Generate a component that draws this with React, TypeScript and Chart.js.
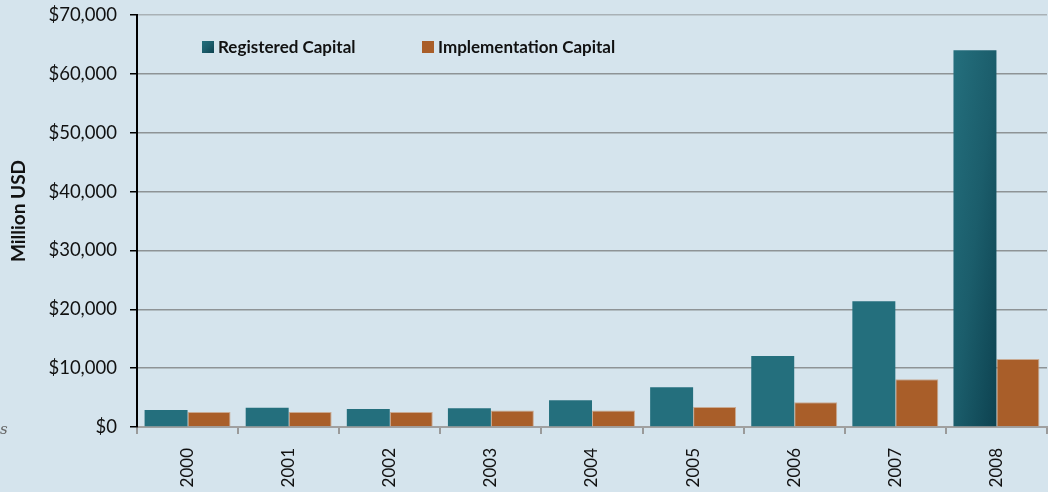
import React, { useEffect, useRef } from "react";
import { Chart, registerables } from "chart.js";

Chart.register(...registerables);

const years = ["2000", "2001", "2002", "2003", "2004", "2005", "2006", "2007", "2008"];
const registeredCapital = [2900, 3250, 3050, 3200, 4550, 6750, 12050, 21350, 64000];
const implementationCapital = [2550, 2550, 2550, 2800, 2800, 3400, 4200, 8100, 11550];
const seriesNames = ["Registered Capital", "Implementation Capital"];
const yTickValues = [0, 10000, 20000, 30000, 40000, 50000, 60000, 70000];
const yAxisTitle = "Million USD";

const BG = "#d5e4ed";
const FONT = "Lato, 'Open Sans', sans-serif";

function boxGradient(ctx: CanvasRenderingContext2D, left: number, top: number, w: number, h: number) {
  const k = (2 * w * h) / (h * h + w * w);
  const g = ctx.createLinearGradient(left, top, left + h * k, top + w * k);
  g.addColorStop(0, "#246f7d");
  g.addColorStop(0.5, "#1b5d6b");
  g.addColorStop(1, "#0d4250");
  return g;
}

const barGradientPlugin = {
  id: "barGradient",
  beforeDatasetsDraw(chart: any) {
    const ctx = chart.ctx;
    const meta = chart.getDatasetMeta(0);
    meta.data.forEach((bar: any) => {
      const w = bar.width;
      const left = bar.x - w / 2;
      const top = Math.min(bar.y, bar.base);
      const h = Math.abs(bar.base - bar.y);
      bar.options.backgroundColor = boxGradient(ctx, left, top, w, h);
    });
  },
};

const legendPlugin = {
  id: "customLegend",
  afterDraw(chart: any) {
    const ctx = chart.ctx;
    const items = [
      { x: 202, label: chart.data.datasets[0].label, color: "#1b5d6b", grad: true },
      { x: 422, label: chart.data.datasets[1].label, color: "#a95e29", grad: false },
    ];
    ctx.save();
    items.forEach((it) => {
      ctx.fillStyle = it.grad ? boxGradient(ctx, it.x, 41, 12, 12) : it.color;
      ctx.fillRect(it.x, 41, 12, 12);
      ctx.fillStyle = "#111";
      ctx.font = "bold 17px " + FONT;
      ctx.textBaseline = "middle";
      ctx.textAlign = "left";
      ctx.fillText(it.label, it.x + 16, 48);
    });
    // y-axis title
    ctx.translate(19, 211);
    ctx.rotate(-Math.PI / 2);
    ctx.font = "bold 19px " + FONT;
    ctx.textAlign = "center";
    ctx.textBaseline = "middle";
    ctx.fillText(yAxisTitle, 0, 0);
    ctx.restore();
  },
};

export default function App() {
  const ref = useRef<HTMLCanvasElement>(null);
  useEffect(() => {
    document.body.style.margin = "0";
    const canvas = ref.current!;
    const chart = new Chart(canvas, {
      type: "bar",
      data: {
        labels: years,
        datasets: [
          {
            label: seriesNames[0],
            data: registeredCapital,
            backgroundColor: "#1b5d6b",
            borderWidth: 0,
            barPercentage: 1,
            categoryPercentage: 0.85,
          },
          {
            label: seriesNames[1],
            data: implementationCapital,
            backgroundColor: "#a95e29",
            borderColor: "#c9aa93",
            borderWidth: 1,
            barPercentage: 1,
            categoryPercentage: 0.85,
          },
        ],
      },
      options: {
        responsive: false,
        animation: false,
        layout: { padding: { top: 15, right: 1, left: 0, bottom: 0 } },
        plugins: { legend: { display: false }, tooltip: { enabled: false } },
        scales: {
          x: {
            grid: {
              offset: true,
              drawOnChartArea: false,
              drawTicks: true,
              tickLength: 7,
              tickColor: "#9a9a9a",
              lineWidth: 2,
            },
            border: { color: "#a0a0a0", width: 2 },
            ticks: {
              color: "#111",
              font: { family: FONT, size: 17 },
              minRotation: 90,
              maxRotation: 90,
              padding: 14,
            },
            afterFit(scale: any) {
              scale.height = 65;
              scale.paddingTop = 0;
            },
          },
          y: {
            min: 0,
            max: 70000,
            afterBuildTicks(scale: any) {
              scale.ticks = yTickValues.map((v) => ({ value: v }));
            },
            grid: {
              color: (c: any) => (c.tick && c.tick.value === 70000 ? "#a9b1b6" : "#8e9396"),
              lineWidth: 1.5,
              tickLength: 7,
              tickColor: "#000",
            },
            border: { color: "#000", width: 2 },
            ticks: {
              color: "#111",
              font: { family: FONT, size: 18.5 },
              padding: 13,
              callback: (v: any) => "$" + Number(v).toLocaleString("en-US"),
            },
            title: { display: false },
            afterFit(scale: any) {
              scale.width = 137;
              scale.paddingTop = 0;
              scale.paddingBottom = 0;
            },
          },
        },
      },
      plugins: [barGradientPlugin, legendPlugin],
    });
    return () => chart.destroy();
  }, []);
  return (
    <div style={{ position: "relative", width: 1048, height: 492, background: BG, overflow: "hidden" }}>
      <canvas ref={ref} width={1048} height={492} style={{ display: "block" }} />
      <span
        style={{
          position: "absolute",
          left: -9,
          top: 420,
          fontFamily: "'DejaVu Serif', serif",
          fontStyle: "italic",
          fontSize: 15,
          color: "#666",
        }}
      >
        es
      </span>
    </div>
  );
}
